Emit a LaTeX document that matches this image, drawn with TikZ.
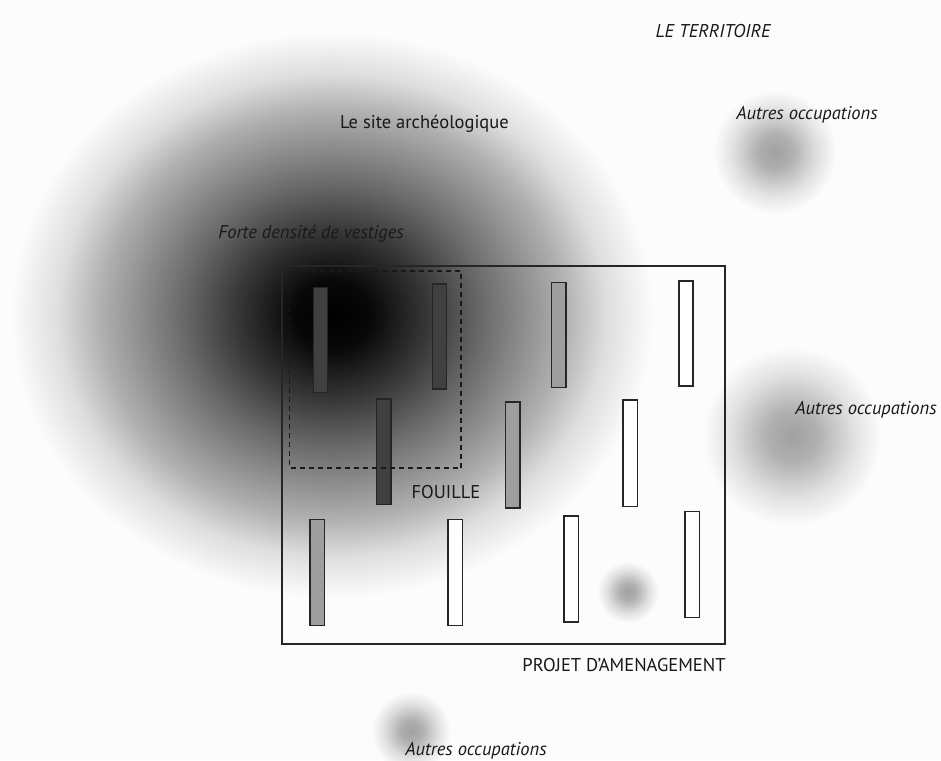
\documentclass[tikz,border=0pt]{standalone}
\usepackage{fontspec}
\setmainfont{PT Sans}
\pgfdeclareradialshading{sitegrad}{\pgfpoint{0bp}{0bp}}{%
  color(0bp)=(black); color(3bp)=(black!97); color(7.5bp)=(black!78);
  color(11.75bp)=(black!58); color(15bp)=(black!44); color(18bp)=(black!31);
  color(21.25bp)=(black!13); color(25bp)=(black!1); color(50bp)=(black!1)}
\pgfdeclareradialshading{blobgrad}{\pgfpoint{0bp}{0bp}}{%
  color(0bp)=(black!37); color(7bp)=(black!31); color(17bp)=(black!12);
  color(25bp)=(black!1); color(50bp)=(black!1)}
\tikzset{
  lbl/.style={inner sep=0pt, font=\fontsize{18.5}{20}\selectfont, text=black!90},
  ilbl/.style={lbl, font=\fontsize{18.5}{20}\selectfont\itshape},
  trench/.style={draw=black!85, line width=1.3pt},
  tdark/.style={trench, fill=black!75},
  tmid/.style={trench, fill=black!38},
  tlight/.style={trench, fill=white},
  frame/.style={draw=black!85, line width=1.3pt},
  zone/.style={draw=black!90, line width=1.2pt, dash pattern=on 5pt off 4pt},
}
\begin{document}
\begin{tikzpicture}[x=1pt,y=-1pt]
\fill[black!1] (0,0) rectangle (941,760);
\useasboundingbox (0,0) rectangle (941,760);
% archaeological site gradient
\shade[shading=sitegrad] (332,315) ellipse [x radius=322pt, y radius=284pt];
% other occupations
\shade[shading=blobgrad] (775,152) circle (62pt);
\shade[shading=blobgrad] (792,436) circle (90pt);
\shade[shading=blobgrad] (628,592) circle (31pt);
\shade[shading=blobgrad] (411,731) circle (40pt);
% project frame
\draw[frame] (282,266) rectangle (725,644);
% trenches
\draw[tdark] (313.5,287.5) rectangle (327.5,392.5);
\draw[tdark] (432.5,284) rectangle (446.5,389);
\draw[tmid] (551.5,282.5) rectangle (566,387.5);
\draw[tlight] (679,281) rectangle (693,386);
\draw[tdark] (376.5,399) rectangle (391,504.5);
\draw[tmid] (505.5,402) rectangle (520,508);
\draw[tlight] (623,400) rectangle (637.5,506.5);
\draw[tmid] (310,519.5) rectangle (324.5,625.5);
\draw[tlight] (448,519.5) rectangle (462.5,625.5);
\draw[tlight] (564,516) rectangle (578.5,622);
\draw[tlight] (685,511.5) rectangle (699.5,617.5);
% excavation zone
\draw[zone] (289.5,271) rectangle (461,468);
% labels
\node[ilbl] (territoire) at (713,31) {LE TERRITOIRE};
\node[ilbl] (occ1) at (807,115) {Autres occupations};
\node[ilbl] (occ2) at (866,410) {Autres occupations};
\node[ilbl] (occ3) at (476,751) {Autres occupations};
\node[lbl] (site) at (424.5,124) {Le site archéologique};
\node[ilbl] (forte) at (311,234) {Forte densité de vestiges};
\node[lbl] (fouille) at (446,492) {FOUILLE};
\node[lbl] (projet) at (624,665) {PROJET D'AMENAGEMENT};
\end{tikzpicture}
\end{document}
